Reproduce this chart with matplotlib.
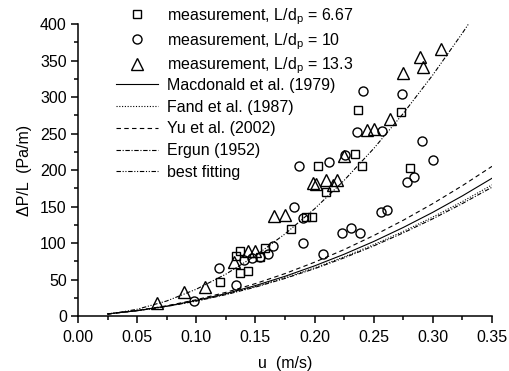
import matplotlib
matplotlib.use("Agg")
import matplotlib.pyplot as plt
from matplotlib.ticker import MultipleLocator

plt.rcParams['font.family'] = ['Liberation Sans', 'DejaVu Sans']
plt.rcParams['mathtext.fontset'] = 'custom'
plt.rcParams['mathtext.rm'] = 'Liberation Sans'
plt.rcParams['mathtext.it'] = 'Liberation Sans:italic'

# measurements, L/dp = 6.67 (squares)
sq_u = [0.120, 0.137, 0.144, 0.134, 0.137, 0.158, 0.154, 0.180, 0.193, 0.198,
        0.210, 0.203, 0.234, 0.240, 0.237, 0.273, 0.281]
sq_dp = [46.2, 59.3, 61.6, 82.2, 89.7, 92.7, 80.8, 118.8, 136.0, 136.0,
         169.9, 205.2, 222.3, 205.9, 282.2, 279.9, 202.3]

# measurements, L/dp = 10 (circles)
ci_u = [0.098, 0.119, 0.134, 0.140, 0.147, 0.154, 0.161, 0.165, 0.183, 0.190,
        0.190, 0.187, 0.207, 0.212, 0.223, 0.231, 0.238, 0.236, 0.241, 0.256,
        0.261, 0.257, 0.274, 0.278, 0.284, 0.291, 0.300, 0.226]
ci_dp = [21.2, 65.3, 42.5, 77.4, 79.5, 80.4, 85.2, 95.5, 148.9, 133.6,
         99.7, 205.8, 84.9, 210.7, 113.3, 119.9, 113.6, 252.7, 308.6, 142.1,
         145.2, 253.0, 304.5, 183.3, 191.0, 240.1, 213.4, 220.5]

# measurements, L/dp = 13.3 (triangles)
tr_u = [0.067, 0.090, 0.107, 0.132, 0.144, 0.150, 0.166, 0.175, 0.199, 0.201,
        0.210, 0.219, 0.216, 0.225, 0.244, 0.250, 0.264, 0.275, 0.289, 0.292,
        0.307]
tr_dp = [17.4, 33.3, 39.5, 74.0, 88.4, 89.0, 137.0, 138.4, 182.5, 181.0,
         186.3, 186.3, 179.5, 219.2, 255.2, 256.8, 270.5, 333.2, 355.2, 341.5,
         365.3]

# correlations, read at u = 0.025 ... 0.35
u_grid = [0.025, 0.05, 0.075, 0.10, 0.125, 0.15, 0.175, 0.20, 0.225, 0.25,
          0.275, 0.30, 0.325, 0.35]
macdonald = [2.9, 7.4, 13.5, 21.3, 30.7, 41.7, 54.4, 68.7, 84.6, 102.1,
             121.3, 142.1, 164.6, 188.7]
fand = [2.9, 7.3, 13.3, 20.8, 29.8, 40.3, 52.4, 65.9, 81.1, 97.7,
        115.9, 135.6, 156.8, 179.6]
yu = [2.9, 7.5, 14.0, 22.3, 32.4, 44.4, 58.1, 73.7, 91.0, 110.2,
      131.2, 154.0, 178.6, 205.0]
ergun = [2.9, 7.2, 13.1, 20.4, 29.3, 39.6, 51.5, 64.8, 79.7, 96.0,
         113.9, 133.2, 154.1, 176.4]

fit_u = [0.025, 0.05, 0.075, 0.10, 0.125, 0.15, 0.175, 0.20, 0.225, 0.25,
         0.275, 0.30, 0.325, 0.33]
fit_dp = [2.3, 9.2, 20.6, 36.7, 57.3, 82.6, 112.4, 146.8, 185.8, 229.4,
          277.5, 330.3, 387.6, 399.7]

fig = plt.figure(figsize=(5.09, 3.71), dpi=100)
ax = fig.add_axes([0.1532, 0.1482, 0.8134, 0.7871])

mk = dict(ls='none', mfc='none', mec='black', mew=1.0)
h1 = ax.plot(sq_u, sq_dp, marker='s', ms=5.5, label='measurement, L/d$_\\mathrm{p}$ = 6.67', **mk)
h2 = ax.plot(ci_u, ci_dp, marker='o', ms=6.5, label='measurement, L/d$_\\mathrm{p}$ = 10', **mk)
h3 = ax.plot(tr_u, tr_dp, marker='^', ms=8, label='measurement, L/d$_\\mathrm{p}$ = 13.3', **mk)

l1 = ax.plot(u_grid, macdonald, color='black', lw=0.8, ls='-', label='Macdonald et al. (1979)')
l2 = ax.plot(u_grid, fand, color='black', lw=0.8, ls=(0, (1, 1.5)), label='Fand et al. (1987)')
l3 = ax.plot(u_grid, yu, color='black', lw=0.8, ls=(0, (4, 3)), label='Yu et al. (2002)')
l4 = ax.plot(u_grid, ergun, color='black', lw=0.8, ls=(0, (4, 1.5, 1, 1.5)), label='Ergun (1952)')
l5 = ax.plot(fit_u, fit_dp, color='black', lw=0.8, ls=(0, (4, 1.5, 1, 1.5, 1, 1.5)), label='best fitting')

ax.set_xlim(0, 0.35)
ax.set_ylim(0, 400)
ax.xaxis.set_major_locator(MultipleLocator(0.05))
ax.xaxis.set_minor_locator(MultipleLocator(0.025))
ax.yaxis.set_major_locator(MultipleLocator(50))
ax.yaxis.set_minor_locator(MultipleLocator(25))
ax.xaxis.set_major_formatter(plt.FormatStrFormatter('%.2f'))

for s in ['top', 'right']:
    ax.spines[s].set_visible(False)
for s in ['left', 'bottom']:
    ax.spines[s].set_linewidth(1.1)
ax.tick_params(which='major', direction='out', length=5, width=1.1, labelsize=11.5, pad=3)
ax.tick_params(axis='x', which='major', pad=5)
ax.tick_params(which='minor', direction='out', length=3, width=1.1)

ax.set_xlabel('u  (m/s)', fontsize=11.5, labelpad=8)
ax.set_ylabel('ΔP/L  (Pa/m)', fontsize=11.5, labelpad=6)

leg_kw = dict(loc='upper left', bbox_transform=fig.transFigure, frameon=False,
              fontsize=11.5, handlelength=2.6, handletextpad=0.6,
              borderpad=0, borderaxespad=0)
leg1 = ax.legend(handles=h1 + h2 + h3, bbox_to_anchor=(116 / 509, 1 - 6 / 371),
                 labelspacing=0.27, **leg_kw)
ax.add_artist(leg1)
ax.legend(handles=l1 + l2 + l3 + l4 + l5, bbox_to_anchor=(116 / 509, 1 - 78 / 371),
          labelspacing=0.42, **leg_kw)

fig.savefig('out.png', dpi=100)
